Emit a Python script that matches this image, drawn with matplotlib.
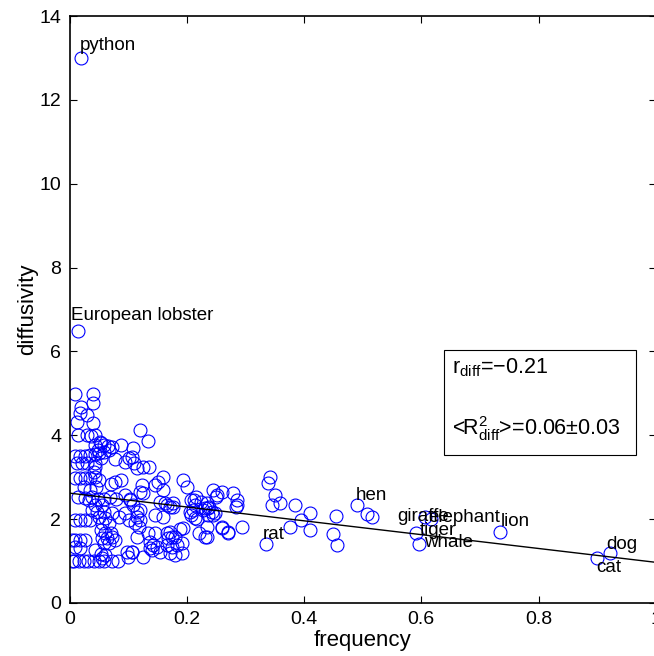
import matplotlib
matplotlib.use("Agg")
import matplotlib.pyplot as plt
from matplotlib.patches import Rectangle

plt.rcParams['font.family'] = ['Liberation Sans', 'DejaVu Sans']
plt.rcParams['mathtext.fontset'] = 'custom'
plt.rcParams['mathtext.rm'] = 'Liberation Sans'
plt.rcParams['mathtext.it'] = 'Liberation Sans'

# unlabelled words: (frequency, diffusivity)
freq = [
    .010, .040, .040, .020, .018, .030, .013, .040, .014, .029, .037, .044, .052, .058,
    .066, .072, .088, .108, .121, .134, .106,
    .010, .018, .027, .035, .044, .051, .058, .067, .054, .043, .030, .021, .013,
    .044, .053, .049, .078, .095, .101, .110, .115,
    .010, .018, .027, .035, .044, .050, .070, .078, .087, .044, .041,
    .126, .136, .160, .151, .146, .160, .123, .126, .120, .194, .200, .216, .213, .225,
    .234, .231, .166, .171, .177, .146, .160, .206, .214, .208, .115, .120, .112, .118,
    .134, .115, .189, .220, .231, .166, .168, .174, .166, .174, .183, .143, .137, .154,
    .171, .180, .126, .106,
    .245, .260, .250, .279, .285, .285, .284, .214, .211, .228, .238, .244, .217, .235,
    .193, .234, .260, .271, .295, .191, .191, .342, .339, .350, .345, .359, .385, .410,
    .394, .376, .410, .455, .450, .456, .508, .516,
    .251, .237, .243, .248, .237, .260, .271,
    .015, .026, .038, .049, .058, .069, .080, .095, .103, .024, .035, .046,
    .044, .055, .047, .058, .050, .061, .055, .067, .038, .033, .072, .084, .095, .101,
    .010, .018, .027, .035,
    .010, .018, .027, .004,
    .053, .061, .070, .055, .064, .072, .078, .058, .067,
    .010, .018, .044, .053, .061, .055, .098, .107,
    .008, .017, .025, .032, .041, .050, .058, .072, .083, .004, .100,
    .146, .171, .180, .140, .137, .149,
    .154, .163, .177, .208, .103, .109, .115, .120,
]
diff = [
    4.98, 4.98, 4.78, 4.68, 4.52, 4.48, 4.32, 4.30, 4.00, 4.00, 3.99, 4.00, 3.85, 3.78,
    3.74, 3.72, 3.78, 3.70, 4.13, 3.87, 3.49,
    3.50, 3.50, 3.50, 3.52, 3.55, 3.58, 3.60, 3.65, 3.47, 3.35, 3.35, 3.35, 3.35,
    3.77, 3.81, 3.65, 3.43, 3.37, 3.47, 3.33, 3.21,
    2.98, 2.98, 2.98, 2.98, 3.01, 2.93, 2.85, 2.89, 2.93, 3.25, 3.13,
    3.25, 3.24, 3.00, 2.89, 2.81, 2.70, 2.81, 2.62, 2.65, 2.93, 2.77, 2.52, 2.46, 2.42,
    2.38, 2.26, 2.34, 2.28, 2.28, 2.10, 2.04, 2.18, 2.02, 2.10, 2.06, 1.98, 1.90, 1.82,
    1.66, 1.58, 1.76, 1.66, 1.58, 1.66, 1.54, 1.58, 1.38, 1.34, 1.38, 1.38, 1.30, 1.22,
    1.19, 1.14, 1.10, 1.22,
    2.70, 2.65, 2.52, 2.62, 2.46, 2.34, 2.28, 2.34, 2.22, 2.22, 2.28, 2.10, 2.00, 1.82,
    1.78, 1.57, 1.81, 1.68, 1.82, 1.42, 1.19, 3.00, 2.87, 2.58, 2.34, 2.38, 2.34, 2.14,
    1.98, 1.82, 1.74, 2.07, 1.65, 1.38, 2.12, 2.06,
    2.58, 2.26, 2.18, 2.14, 2.10, 1.78, 1.70,
    2.53, 2.50, 2.53, 2.47, 2.47, 2.53, 2.47, 2.58, 2.47, 2.77, 2.70, 2.77,
    2.34, 2.34, 2.18, 2.18, 2.06, 2.02, 1.90, 1.90, 2.22, 2.46, 2.14, 2.06, 2.14, 1.98,
    1.98, 1.98, 1.98, 1.98,
    1.50, 1.50, 1.50, 1.50,
    1.74, 1.66, 1.66, 1.54, 1.54, 1.58, 1.50, 1.42, 1.42,
    1.34, 1.30, 1.26, 1.18, 1.14, 1.07, 1.22, 1.22,
    1.00, 1.00, 1.00, 1.00, 1.00, 1.00, 1.00, 1.00, 1.00, 1.00, 1.10,
    1.66, 1.70, 1.58, 1.26, 1.46, 1.34,
    2.42, 2.38, 2.38, 2.46, 2.46, 2.34, 2.18, 2.22,
]

# labelled words
animals = ['python', 'European lobster', 'rat', 'hen', 'giraffe', 'elephant',
           'tiger', 'whale', 'lion', 'dog', 'cat']
animal_freq = [0.020, 0.015, 0.335, 0.490, 0.606, 0.616, 0.591, 0.596, 0.735, 0.921, 0.900]
animal_diff = [13.0, 6.49, 1.41, 2.34, 2.06, 2.00, 1.67, 1.41, 1.70, 1.20, 1.07]
# label offsets in points
label_off = [(-1, 9), (-5, 11), (-2, 7), (-1, 7), (-20, 0), (-2, 1),
             (3, 2), (4, 1), (0, 7), (-2, 6), (-1, -7)]

# regression line
fit_x = [0.0, 1.0]
fit_y = [2.62, 0.97]

fig = plt.figure(figsize=(6.54, 6.56), dpi=100)
ax = fig.add_axes([0.1063, 0.0808, 0.8965, 0.8948])

ax.plot(freq + animal_freq, diff + animal_diff, 'o', mfc='none', mec='#0000ff',
        ms=9.3, mew=0.8, ls='none')
ax.plot(fit_x, fit_y, '-', color='black', lw=1.0)

for name, x, y, off in zip(animals, animal_freq, animal_diff, label_off):
    ax.annotate(name, (x, y), xytext=off, textcoords='offset points',
                ha='left', va='center', fontsize=13.5)

ax.set_xlim(0, 1)
ax.set_ylim(0, 14)
ax.set_xticks([0, 0.2, 0.4, 0.6, 0.8, 1])
ax.set_xticklabels(['0', '0.2', '0.4', '0.6', '0.8', '1'])
ax.set_yticks(range(0, 15, 2))
ax.tick_params(direction='in', top=True, right=True, length=5, width=0.8,
               labelsize=14, pad=6)
for s in ax.spines.values():
    s.set_linewidth(1.2)

ax.set_xlabel('frequency', fontsize=16, labelpad=1)
ax.set_ylabel('diffusivity', fontsize=16, labelpad=1)

ax.add_patch(Rectangle((0.639, 0.252), 0.327, 0.179, transform=ax.transAxes,
                       fill=False, ec='black', lw=0.8))
ax.text(0.652, 0.40, 'r$_{\\mathrm{diff}}$=\u22120.21',
        transform=ax.transAxes, fontsize=15.5, va='center', ha='left')
ax.text(0.652, 0.297, '<R$^{2}_{\\mathrm{diff}}$>=0.06\u00b10.03',
        transform=ax.transAxes, fontsize=15.5, va='center', ha='left')

fig.savefig('out.png', dpi=100)
